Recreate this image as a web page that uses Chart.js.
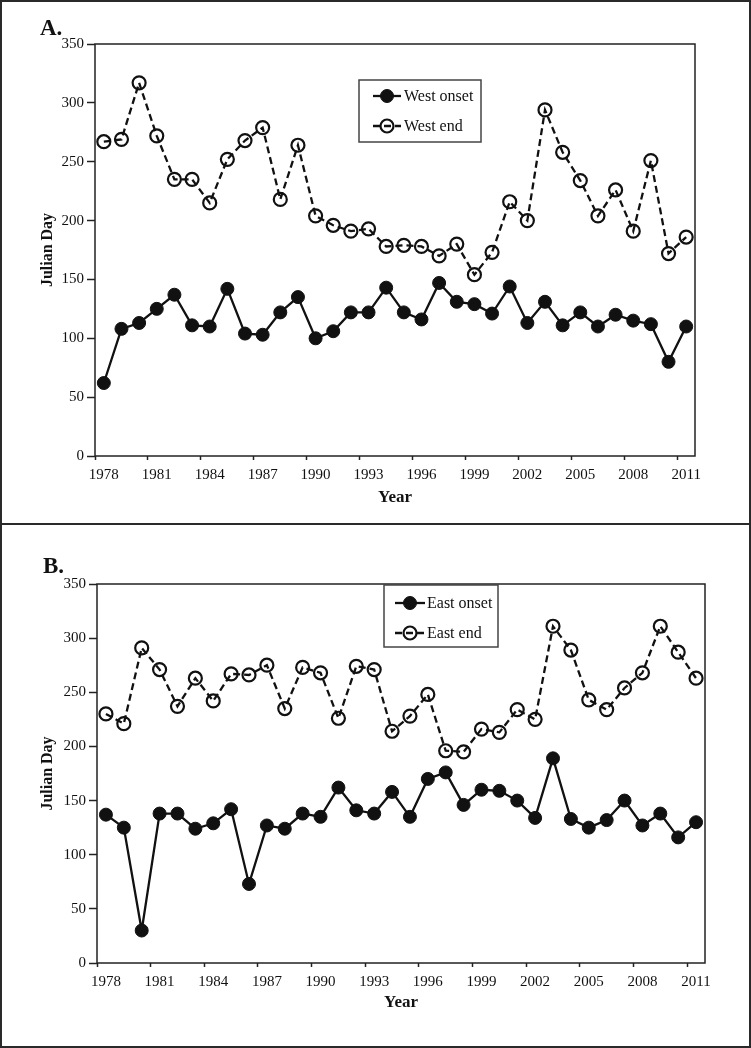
<!DOCTYPE html>
<html>
<head>
<meta charset="utf-8">
<script src="https://cdn.jsdelivr.net/npm/chart.js@4/dist/chart.umd.min.js"></script>
<style>
  body { margin: 0; background: #fff; }
  .wrap { position: relative; width: 751px; height: 1048px; overflow: hidden; }
  canvas { position: absolute; left: 0; }
  .box { position: absolute; left: 0; width: 751px; box-sizing: border-box; border: 2px solid #2a2a2a; pointer-events: none; }
</style>
</head>
<body>
<div class="wrap">
  <canvas id="chart-west" width="751" height="524" style="top:0"></canvas>
  <canvas id="chart-east" width="751" height="524" style="top:524px"></canvas>
  <div class="box" style="top:0;height:525px"></div>
  <div class="box" style="top:523px;height:525px"></div>
</div>
<script>
// years on the category axis
const years = ['1978', '1979', '1980', '1981', '1982', '1983', '1984', '1985', '1986', '1987',
  '1988', '1989', '1990', '1991', '1992', '1993', '1994', '1995', '1996', '1997',
  '1998', '1999', '2000', '2001', '2002', '2003', '2004', '2005', '2006', '2007',
  '2008', '2009', '2010', '2011'];

// Julian day values
const westOnset = [62, 108, 113, 125, 137, 111, 110, 142, 104, 103, 122, 135, 100, 106, 122, 122, 143,
  122, 116, 147, 131, 129, 121, 144, 113, 131, 111, 122, 110, 120, 115, 112, 80, 110];
const westEnd = [267, 269, 317, 272, 235, 235, 215, 252, 268, 279, 218, 264, 204, 196, 191, 193, 178,
  179, 178, 170, 180, 154, 173, 216, 200, 294, 258, 234, 204, 226, 191, 251, 172, 186];
const eastOnset = [137, 125, 30, 138, 138, 124, 129, 142, 73, 127, 124, 138, 135, 162, 141, 138, 158,
  135, 170, 176, 146, 160, 159, 150, 134, 189, 133, 125, 132, 150, 127, 138, 116, 130];
const eastEnd = [230, 221, 291, 271, 237, 263, 242, 267, 266, 275, 235, 273, 268, 226, 274, 271, 214,
  228, 248, 196, 195, 216, 213, 234, 225, 311, 289, 243, 234, 254, 268, 311, 287, 263];

const yMin = 0, yMax = 350, yStep = 50;
const labelEvery = 3;

const SERIF = "'Liberation Serif', 'Times New Roman', serif";
const INK = '#111';

// plot frame, panel letter and the boxed legend
const framePlugin = {
  id: 'frame',
  afterDraw(chart, args, o) {
    const ctx = chart.ctx;
    const a = chart.chartArea;
    ctx.save();
    ctx.strokeStyle = '#222';
    ctx.lineWidth = 1.5;
    ctx.strokeRect(a.left, a.top, a.right - a.left, a.bottom - a.top);

    ctx.fillStyle = INK;
    ctx.font = 'bold 23px ' + SERIF;
    ctx.textBaseline = 'middle';
    ctx.textAlign = 'left';
    ctx.fillText(o.letter, o.letterX, o.letterY);

    const lg = o.legend;
    ctx.fillStyle = '#fff';
    ctx.fillRect(lg.x, lg.y, lg.w, lg.h);
    ctx.strokeStyle = '#444';
    ctx.lineWidth = 1.5;
    ctx.strokeRect(lg.x, lg.y, lg.w, lg.h);

    chart.data.datasets.forEach((ds, i) => {
      const y = lg.rows[i];
      ctx.strokeStyle = ds.borderColor;
      ctx.lineWidth = ds.borderWidth;
      ctx.setLineDash(ds.borderDash || []);
      ctx.beginPath();
      ctx.moveTo(lg.lineX[0], y);
      ctx.lineTo(lg.lineX[1], y);
      ctx.stroke();
      ctx.setLineDash([]);
      ctx.beginPath();
      ctx.arc(lg.markX, y, ds.pointRadius, 0, Math.PI * 2);
      if (ds.pointBackgroundColor !== 'rgba(0,0,0,0)') {
        ctx.fillStyle = ds.pointBackgroundColor;
        ctx.fill();
      }
      ctx.lineWidth = ds.pointBorderWidth;
      ctx.strokeStyle = ds.pointBorderColor;
      ctx.stroke();
      ctx.fillStyle = INK;
      ctx.font = '16px ' + SERIF;
      ctx.textAlign = 'left';
      ctx.fillText(ds.label, lg.textX, y + 1);
    });
    ctx.restore();
  }
};

function makeDatasets(names, onset, end) {
  return [
    {
      label: names[0],
      data: onset,
      borderColor: INK,
      borderWidth: 2.3,
      pointRadius: 6.5,
      pointHoverRadius: 6.5,
      pointBackgroundColor: INK,
      pointBorderColor: INK,
      pointBorderWidth: 1,
      tension: 0
    },
    {
      label: names[1],
      data: end,
      borderColor: INK,
      borderWidth: 2.3,
      borderDash: [7, 4],
      pointRadius: 6.5,
      pointHoverRadius: 6.5,
      pointBackgroundColor: 'rgba(0,0,0,0)',
      pointBorderColor: INK,
      pointBorderWidth: 2.2,
      tension: 0
    }
  ];
}

function makeChart(canvasId, datasets, lay, frame) {
  const ctx = document.getElementById(canvasId).getContext('2d');
  return new Chart(ctx, {
    type: 'line',
    data: { labels: years, datasets: datasets },
    plugins: [framePlugin],
    options: {
      responsive: false,
      animation: false,
      devicePixelRatio: 1,
      layout: { padding: lay.padding },
      scales: {
        x: {
          type: 'category',
          offset: true,
          border: { display: false },
          grid: {
            offset: true,
            drawOnChartArea: false,
            tickLength: 4,
            tickWidth: 1.5,
            tickColor: c => (c.index % labelEvery === 0 ? '#222' : 'rgba(0,0,0,0)')
          },
          ticks: {
            autoSkip: false,
            maxRotation: 0,
            padding: 6,
            color: INK,
            font: { family: SERIF, size: 15 },
            callback: function (val, i) { return i % labelEvery === 0 ? this.getLabelForValue(val) : ''; }
          },
          title: {
            display: true,
            text: 'Year',
            color: INK,
            padding: 0,
            font: { family: SERIF, size: 17, weight: 'bold' }
          },
          afterFit: s => { s.height = lay.xHeight; s.paddingLeft = 0; s.paddingRight = 0; }
        },
        y: {
          min: yMin,
          max: yMax,
          border: { display: false },
          grid: { drawOnChartArea: false, tickLength: 8, tickWidth: 1.5, tickColor: '#222' },
          ticks: {
            stepSize: yStep,
            padding: 3,
            color: INK,
            font: { family: SERIF, size: 15 }
          },
          title: {
            display: true,
            text: 'Julian Day',
            color: INK,
            padding: 0,
            font: { family: SERIF, size: 16, weight: 'bold' }
          },
          afterFit: s => { s.width = lay.yWidth; s.paddingTop = 0; s.paddingBottom = 0; }
        }
      },
      plugins: {
        legend: { display: false },
        tooltip: { enabled: false },
        frame: frame
      }
    }
  });
}

makeChart('chart-west', makeDatasets(['West onset', 'West end'], westOnset, westEnd),
  { padding: { left: 38, top: 44, right: 56, bottom: 16 }, yWidth: 57, xHeight: 52 },
  {
    letter: 'A.', letterX: 40, letterY: 29,
    legend: { x: 359, y: 80, w: 122, h: 62, rows: [96, 126], lineX: [373, 401], markX: 387, textX: 404 }
  });

makeChart('chart-east', makeDatasets(['East onset', 'East end'], eastOnset, eastEnd),
  { padding: { left: 38, top: 60, right: 46, bottom: 35 }, yWidth: 59, xHeight: 50 },
  {
    letter: 'B.', letterX: 43, letterY: 43,
    legend: { x: 384, y: 61, w: 114, h: 62, rows: [79, 109], lineX: [395, 425], markX: 410, textX: 427 }
  });
</script>
</body>
</html>
